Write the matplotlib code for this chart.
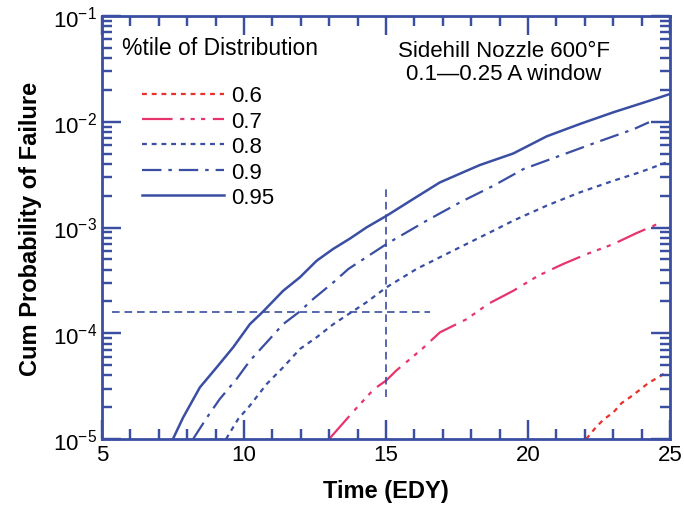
#!/usr/bin/env python3
"""Cumulative probability of failure vs. time, by percentile of distribution."""

import matplotlib
matplotlib.use("Agg")
import matplotlib.pyplot as plt
from matplotlib.collections import LineCollection
from matplotlib.transforms import blended_transform_factory
from matplotlib.ticker import MultipleLocator, LogLocator, NullFormatter

BLUE = "#3a4ea2"
PINK = "#e8346c"
RED = "#e8302c"

# ── Data (time in EDY, cumulative probability of failure) ──
t_60 = [22.05, 22.36, 22.65, 23.01, 23.30, 23.59, 23.94, 24.24, 24.59, 24.90]
p_60 = [1.0e-5, 1.26e-5, 1.52e-5, 1.79e-5, 2.19e-5, 2.48e-5, 2.92e-5,
        3.39e-5, 3.83e-5, 4.33e-5]

t_70 = [13.00, 13.93, 14.58, 15.00, 15.36, 16.27, 16.90, 17.84, 18.62,
        19.48, 20.36, 21.24, 22.07, 23.01, 23.83, 24.70]
p_70 = [1.0e-5, 1.92e-5, 2.97e-5, 3.56e-5, 4.43e-5, 7.10e-5, 1.02e-4,
        1.36e-4, 1.91e-4, 2.52e-4, 3.50e-4, 4.52e-4, 5.61e-4, 6.98e-4,
        8.87e-4, 1.12e-3]

t_80 = [9.37, 9.80, 10.21, 10.80, 11.38, 11.97, 12.56, 13.15, 14.31, 15.02,
        16.08, 17.25, 18.78, 19.48, 20.66, 21.83, 23.01, 23.94, 24.88]
p_80 = [1.0e-5, 1.55e-5, 2.07e-5, 3.31e-5, 4.76e-5, 7.10e-5, 9.16e-5,
        1.22e-4, 1.96e-4, 2.72e-4, 4.06e-4, 5.83e-4, 9.33e-4, 1.16e-3,
        1.61e-3, 2.15e-3, 2.77e-3, 3.33e-3, 4.13e-3]

t_90 = [8.21, 8.74, 9.15, 9.74, 10.21, 10.80, 11.38, 11.97, 12.44, 13.15,
        13.68, 15.02, 16.43, 17.61, 18.78, 19.84, 21.13, 22.42, 23.73, 24.26]
p_90 = [1.0e-5, 1.66e-5, 2.39e-5, 3.69e-5, 5.50e-5, 8.20e-5, 1.22e-4,
        1.61e-4, 2.11e-4, 3.03e-4, 4.06e-4, 6.98e-4, 1.16e-3, 1.73e-3,
        2.48e-3, 3.57e-3, 4.78e-3, 6.40e-3, 8.53e-3, 9.89e-3]

t_95 = [7.50, 7.86, 8.45, 9.04, 9.62, 10.21, 10.68, 11.38, 11.97, 12.56,
        13.14, 13.73, 14.31, 15.02, 15.96, 16.90, 17.84, 18.31, 19.48, 20.66,
        21.83, 23.01, 24.18, 25.00]
p_95 = [1.0e-5, 1.60e-5, 3.08e-5, 4.76e-5, 7.36e-5, 1.22e-4, 1.61e-4,
        2.52e-4, 3.38e-4, 4.85e-4, 6.27e-4, 7.85e-4, 1.0e-3, 1.29e-3,
        1.86e-3, 2.67e-3, 3.44e-3, 3.90e-3, 5.01e-3, 7.28e-3, 9.53e-3,
        1.23e-2, 1.55e-2, 1.83e-2]

# reference cross-hair
ref_prob = 1.58e-4
ref_prob_span = [5.35, 16.55]
ref_time = 15.0
ref_time_span = [2.5e-5, 2.5e-3]

rc = {
    "font.family": ["Liberation Sans", "DejaVu Sans"],
    "mathtext.fontset": "custom",
    "mathtext.rm": "Liberation Sans",
    "mathtext.default": "regular",
}

# dash patterns are given in points at lw=1.6, so divide out the width
lw = 1.6
def dash(*seq, width=lw):
    return tuple(s / width for s in seq)


def tick_marks(ax, major_pt=13.5, minor_pt=7.0):
    """Inward tick marks on all four sides, drawn as plain segments."""
    fig = ax.figure
    bbox = ax.get_window_extent()
    px = fig.dpi / 72.0
    fx = lambda pt: pt * px / bbox.width    # length as axes-width fraction
    fy = lambda pt: pt * px / bbox.height   # length as axes-height fraction
    xt = blended_transform_factory(ax.transData, ax.transAxes)
    yt = blended_transform_factory(ax.transAxes, ax.transData)
    x0, x1 = ax.get_xlim()
    y0, y1 = ax.get_ylim()
    for locs, pt in ((ax.xaxis.get_majorticklocs(), major_pt),
                     (ax.xaxis.get_minorticklocs(), minor_pt)):
        segs = []
        for x in locs:
            if x0 <= x <= x1:
                segs.append([(x, 0), (x, fy(pt))])
                segs.append([(x, 1), (x, 1 - fy(pt))])
        ax.add_collection(LineCollection(segs, colors=BLUE, linewidths=1.6,
                                         transform=xt, clip_on=False,
                                         zorder=3), autolim=False)
    for locs, pt in ((ax.yaxis.get_majorticklocs(), major_pt),
                     (ax.yaxis.get_minorticklocs(), minor_pt)):
        segs = []
        for y in locs:
            if y0 * 0.999 <= y <= y1 * 1.001:
                segs.append([(0, y), (fx(pt), y)])
                segs.append([(1, y), (1 - fx(pt), y)])
        ax.add_collection(LineCollection(segs, colors=BLUE, linewidths=1.6,
                                         transform=yt, clip_on=False,
                                         zorder=3), autolim=False)


with plt.rc_context(rc):
    fig, ax = plt.subplots(figsize=(6.84, 5.06), dpi=100)
    fig.subplots_adjust(left=0.149, right=0.9795, bottom=0.1304, top=0.9664)

    ax.set_yscale("log")
    ax.set_xlim(5, 25)
    ax.set_ylim(1e-5, 1e-1)

    ax.plot(t_60, p_60, color=RED, lw=lw, dashes=dash(3.5, 3.5), label="0.6")
    ax.plot(t_70, p_70, color=PINK, lw=lw,
            dashes=dash(22, 5.5, 3, 4.5, 3, 4.5, 3, 5.5), label="0.7")
    ax.plot(t_80, p_80, color=BLUE, lw=lw, dashes=dash(3.5, 3.5), label="0.8")
    ax.plot(t_90, p_90, color=BLUE, lw=lw, dashes=dash(14, 5, 2.5, 5),
            label="0.9")
    ax.plot(t_95, p_95, color=BLUE, lw=1.8, label="0.95")

    ax.plot(ref_prob_span, [ref_prob, ref_prob], color=BLUE, lw=1.2,
            dashes=dash(5.5, 3.5, width=1.2))
    ax.plot([ref_time, ref_time], ref_time_span, color=BLUE, lw=1.2,
            dashes=dash(5.5, 3.5, width=1.2))

    ax.xaxis.set_major_locator(MultipleLocator(5))
    ax.xaxis.set_minor_locator(MultipleLocator(1))
    ax.yaxis.set_major_locator(LogLocator(base=10))
    ax.yaxis.set_minor_locator(LogLocator(base=10, subs=range(2, 10)))
    ax.yaxis.set_minor_formatter(NullFormatter())

    for side in ax.spines.values():
        side.set_color(BLUE)
        side.set_linewidth(2.0)

    ax.text(0.035, 0.925, "%tile of Distribution", transform=ax.transAxes,
            fontsize=16.5, ha="left", va="center")
    ax.text(0.708, 0.891, "Sidehill Nozzle 600°F\n0.1\u20140.25 A window",
            transform=ax.transAxes, fontsize=16, ha="center", va="center",
            linespacing=1.1)

    ax.legend(loc="upper left", bbox_to_anchor=(0.055, 0.857), frameon=False,
              fontsize=16, handlelength=3.7, handletextpad=0.3,
              labelspacing=0.2, borderaxespad=0)

    ax.tick_params(which="both", direction="in", top=True, right=True,
                   color=BLUE, width=1.6, labelsize=16)
    ax.tick_params(which="major", length=13.5)
    ax.tick_params(which="minor", length=7)
    tick_marks(ax)

    ax.set_xlabel("Time (EDY)", fontsize=17, fontweight="bold", labelpad=10)
    ax.set_ylabel("Cum Probability of Failure", fontsize=17,
                  fontweight="bold", labelpad=8)

    fig.savefig("out.png", dpi=100, facecolor="white")
    plt.close(fig)
